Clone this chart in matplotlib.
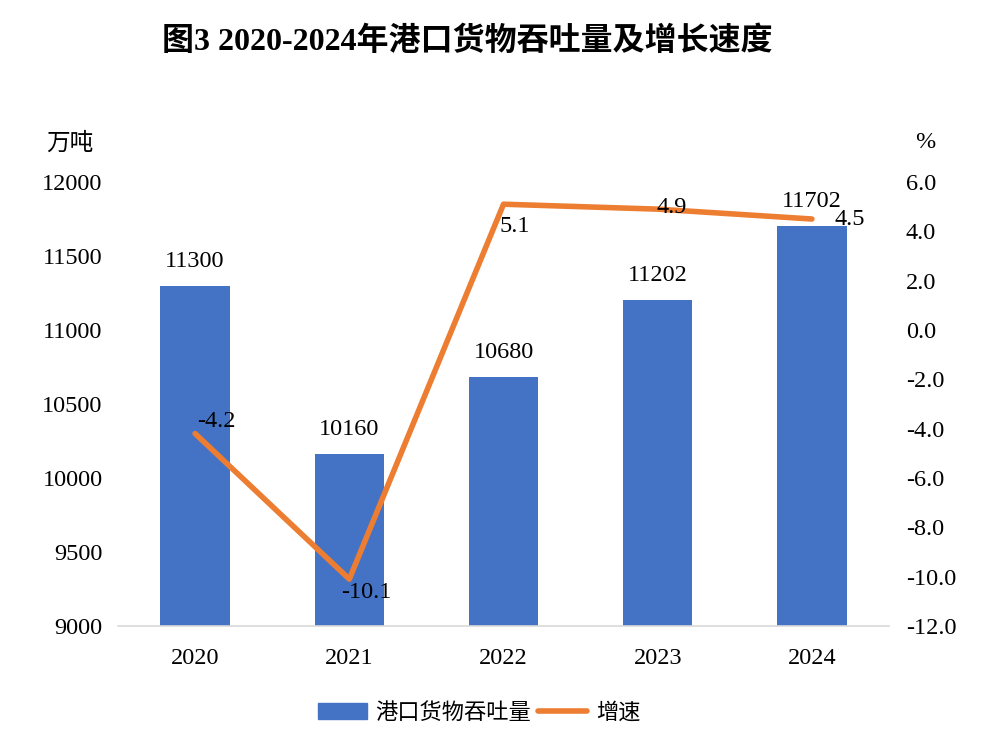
import matplotlib.pyplot as plt
from matplotlib.patches import Patch
from matplotlib.lines import Line2D

years = ["2020", "2021", "2022", "2023", "2024"]
throughput = [11300, 10160, 10680, 11202, 11702]
growth = [-4.2, -10.1, 5.1, 4.9, 4.5]
left_ticks = [9000, 9500, 10000, 10500, 11000, 11500, 12000]
right_ticks = [-12.0, -10.0, -8.0, -6.0, -4.0, -2.0, 0.0, 2.0, 4.0, 6.0]
# label offsets (points) for growth values
growth_offsets = [(15, 9), (12, -10), (8, -16), (10, 1), (27, 0)]

num_font = ['Liberation Serif', 'Noto Sans CJK SC']
cjk_font = ['Noto Sans CJK SC', 'Liberation Serif']
blue = '#4472C4'
orange = '#ED7D31'
fs = 17.5

fig = plt.figure(figsize=(10.08, 7.36), dpi=100)
ax = fig.add_axes([118 / 1008, 0.1495, 771 / 1008, 0.6032])
x = list(range(len(years)))

ax.bar(x, throughput, width=0.45, color=blue, zorder=2)
ax.set_ylim(9000, 12000)
ax.set_xlim(-0.5, 4.5)
ax.set_yticks(left_ticks)
ax.set_yticklabels([str(v) for v in left_ticks], family=num_font, fontsize=fs)
ax.set_xticks(x)
ax.set_xticklabels(years, family=num_font, fontsize=fs)
ax.tick_params(axis='y', length=0, pad=11)
ax.tick_params(axis='x', length=0, pad=16)
for s in ['top', 'left', 'right']:
    ax.spines[s].set_visible(False)
ax.spines['bottom'].set_color('#D9D9D9')
ax.spines['bottom'].set_linewidth(1.2)

for xi, v in zip(x, throughput):
    ax.annotate(str(v), (xi, v), xytext=(0, 10), textcoords='offset points',
                ha='center', va='bottom', family=num_font, fontsize=fs)

ax2 = ax.twinx()
ax2.plot(x, growth, color=orange, linewidth=4, solid_capstyle='round',
         solid_joinstyle='round', zorder=3)
ax2.set_ylim(-12, 6)
ax2.set_yticks(right_ticks)
ax2.set_yticklabels([f"{v:.1f}" for v in right_ticks], family=num_font, fontsize=fs)
ax2.tick_params(axis='y', length=0, pad=12)
for s in ['top', 'left', 'right', 'bottom']:
    ax2.spines[s].set_visible(False)

for xi, v, off in zip(x, growth, growth_offsets):
    ax2.annotate(f"{v:.1f}", (xi, v), xytext=off, textcoords='offset points',
                 ha='center', va='center', family=num_font, fontsize=fs)

fig.text(0.464, 0.943, "图3 2020-2024年港口货物吞吐量及增长速度", ha='center', va='center',
         family=num_font, fontsize=23, fontweight='bold')
fig.text(70 / 1008, 1 - 143 / 736, "万吨", ha='center', va='center',
         family=cjk_font, fontsize=17)
fig.text(925 / 1008, 1 - 142 / 736, "%", ha='center', va='center',
         family=num_font, fontsize=fs)

handles = [Patch(color=blue), Line2D([0], [0], color=orange, linewidth=4, solid_capstyle='round')]
fig.legend(handles, ["港口货物吞吐量", "增速"], loc='center', bbox_to_anchor=(479 / 1008, 1 - 712 / 736),
           ncol=2, frameon=False, prop={'family': cjk_font, 'size': 16},
           handlelength=2.2, handletextpad=0.4, columnspacing=0.3)

fig.savefig('out.png', dpi=100)
